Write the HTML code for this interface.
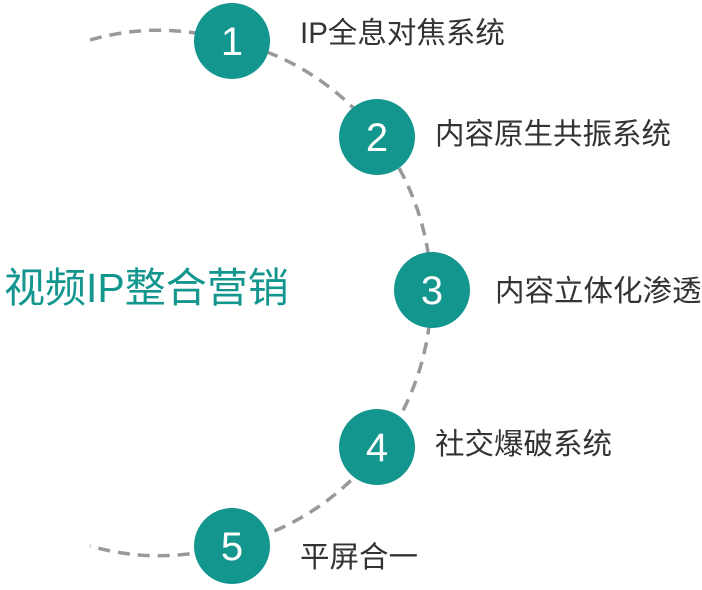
<!DOCTYPE html>
<html><head><meta charset="utf-8"><style>
html,body{margin:0;padding:0;background:#fff;}
body{width:702px;height:585px;overflow:hidden;}
svg text{font-family:"Liberation Sans","Noto Sans CJK SC",sans-serif;}
</style></head><body>
<svg width="702" height="585" viewBox="0 0 702 585" xmlns="http://www.w3.org/2000/svg">
<path d="M90 40 Q160 20 232 41 A259 259 0 0 1 232 545 Q160 566 90 546" fill="none" stroke="#999" stroke-width="3.5" stroke-dasharray="12 8"/>
<g fill="#13968e">
<circle cx="232" cy="41" r="38"/>
<circle cx="377" cy="137" r="38"/>
<circle cx="432" cy="290" r="38"/>
<circle cx="377" cy="447" r="38"/>
<circle cx="232" cy="546" r="38"/>
</g>
<g fill="#fff" font-size="40" text-anchor="middle">
<text x="232" y="55">1</text>
<text x="377" y="151">2</text>
<text x="432" y="304">3</text>
<text x="377" y="461">4</text>
<text x="232" y="560">5</text>
</g>
<g fill="#333" font-size="29.5">
<text x="300" y="43">IP全息对焦系统</text>
<text x="435" y="144">内容原生共振系统</text>
<text x="495" y="301">内容立体化渗透</text>
<text x="435" y="454">社交爆破系统</text>
<text x="300" y="567">平屏合一</text>
</g>
<text x="4" y="302" font-size="41" fill="#13968e">视频IP整合营销</text>
</svg>
</body></html>
